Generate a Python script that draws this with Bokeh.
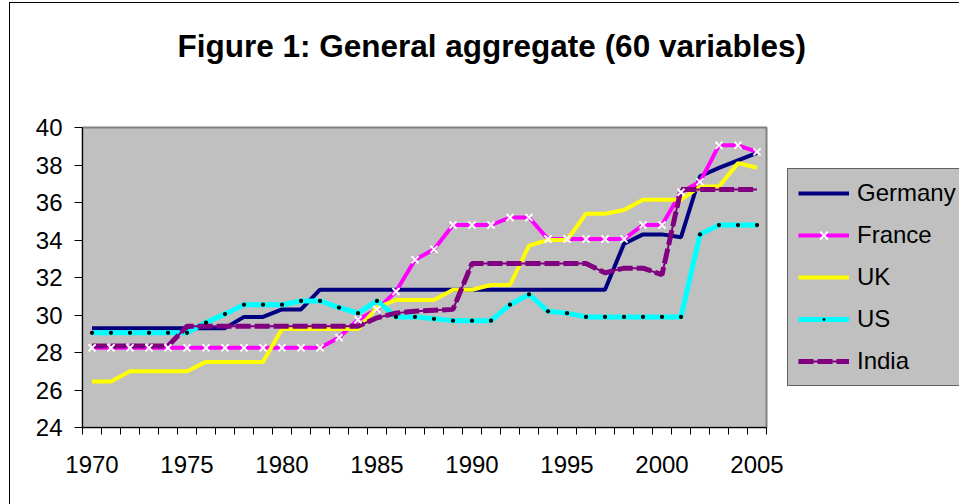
from bokeh.plotting import figure
from bokeh.models import FixedTicker, Legend, LegendItem, Range1d, Title
from bokeh.embed import file_html
from bokeh.resources import INLINE

years = list(range(1970, 2006))

germany = [29.3, 29.3, 29.3, 29.3, 29.3, 29.3, 29.3, 29.3, 29.9, 29.9,
           30.3, 30.3, 31.35, 31.35, 31.35, 31.35, 31.35, 31.35, 31.35, 31.35,
           31.35, 31.35, 31.35, 31.35, 31.35, 31.35, 31.35, 31.35, 33.8, 34.3,
           34.3, 34.15, 37.4, 37.85, 38.25, 38.65]
france = [28.25, 28.25, 28.25, 28.25, 28.25, 28.25, 28.25, 28.25, 28.25, 28.25,
          28.25, 28.25, 28.25, 28.8, 29.75, 30.3, 31.25, 32.95, 33.5, 34.8,
          34.8, 34.8, 35.2, 35.2, 34.05, 34.05, 34.05, 34.05, 34.05, 34.8,
          34.8, 36.55, 37.1, 39.05, 39.05, 38.7]
uk = [26.45, 26.45, 27.0, 27.0, 27.0, 27.0, 27.5, 27.5, 27.5, 27.5,
      29.25, 29.25, 29.25, 29.25, 29.25, 30.4, 30.8, 30.8, 30.8, 31.35,
      31.35, 31.6, 31.6, 33.7, 34.0, 34.0, 35.4, 35.4, 35.6, 36.15,
      36.15, 36.15, 36.85, 36.85, 38.1, 37.85]
us = [29.05, 29.05, 29.05, 29.05, 29.05, 29.05, 29.6, 30.05, 30.55, 30.55,
      30.55, 30.75, 30.75, 30.4, 30.1, 30.75, 29.9, 29.9, 29.8, 29.7,
      29.7, 29.7, 30.55, 31.1, 30.2, 30.1, 29.9, 29.9, 29.9, 29.9,
      29.9, 29.9, 34.3, 34.8, 34.8, 34.8]
india = [28.35, 28.35, 28.35, 28.35, 28.35, 29.4, 29.4, 29.4, 29.4, 29.4,
         29.4, 29.4, 29.4, 29.4, 29.4, 29.85, 30.1, 30.2, 30.25, 30.3,
         32.75, 32.75, 32.75, 32.75, 32.75, 32.75, 32.75, 32.25, 32.5, 32.5,
         32.15, 36.7, 36.7, 36.7, 36.7, 36.7]

series_names = ["Germany", "France", "UK", "US", "India"]
x_tick_years = [1970, 1975, 1980, 1985, 1990, 1995, 2000, 2005]
y_ticks = [24, 26, 28, 30, 32, 34, 36, 38, 40]
title_text = "Figure 1: General aggregate (60 variables)"

FONT = "Liberation Sans"

p = figure(frame_width=684, frame_height=300, output_backend="svg",
           toolbar_location=None, title=None,
           x_range=Range1d(1969.5, 2005.5), y_range=Range1d(24, 40),
           min_border_left=82, min_border_right=0, min_border_top=127,
           min_border_bottom=77)
p.background_fill_color = "#C0C0C0"
p.border_fill_alpha = 0
p.outline_line_color = "#808080"
p.outline_line_width = 2
p.grid.visible = False
# outer chart-area frame (left and top edges visible in the window)
p.styles = {
    "background": ("linear-gradient(#000,#000) 9px 2px / 1px 100% no-repeat, "
                   "linear-gradient(#000,#000) 9px 2px / 100% 1px no-repeat, #fff"),
}

# spacer between the plot area and the title, then the title itself
spacer = Title(text=" ", text_font=FONT, text_font_size="10px", standoff=46)
p.add_layout(spacer, "above")
main_title = Title(text=title_text, text_font=FONT, text_font_size="31.5px",
                   text_font_style="bold", text_color="black",
                   align="left", offset=95, standoff=10)
p.add_layout(main_title, "above")

# lines
r_de = p.line(years, germany, line_color="#000080", line_width=4)
r_fr = p.line(years, france, line_color="#FF00FF", line_width=4)
r_uk = p.line(years, uk, line_color="#FFFF00", line_width=4)
r_us = p.line(years, us, line_color="#00FFFF", line_width=5)
r_in_thin = p.line(years, india, line_color="#800080", line_width=2)
r_in = p.line(years, india, line_color="#800080", line_width=5, line_dash="15 4")
# markers
r_fr_m = p.scatter(years, france, marker="x", size=10, line_color="white", line_width=2)
r_us_m = p.scatter(years, us, marker="dot", size=17, line_color="black", fill_color="black")

# axes
p.yaxis.ticker = FixedTicker(ticks=y_ticks)
p.yaxis.major_tick_out = 8
p.yaxis.major_tick_in = 0
p.yaxis.minor_tick_out = 0
p.yaxis.minor_tick_in = 0
p.yaxis.axis_line_color = "black"
p.yaxis.major_tick_line_color = "black"
p.yaxis.major_label_text_font = FONT
p.yaxis.major_label_text_font_size = "24px"
p.yaxis.major_label_text_color = "black"
p.yaxis.major_label_standoff = 12

minor = [y - 0.5 for y in years] + [years[-1] + 0.5]
p.xaxis.ticker = FixedTicker(ticks=x_tick_years, minor_ticks=minor)
p.xaxis.major_tick_out = 7
p.xaxis.major_tick_in = 0
p.xaxis.major_tick_line_color = None
p.xaxis.minor_tick_out = 7
p.xaxis.minor_tick_in = 0
p.xaxis.minor_tick_line_color = "black"
p.xaxis.axis_line_color = "black"
p.xaxis.major_label_text_font = FONT
p.xaxis.major_label_text_font_size = "24px"
p.xaxis.major_label_text_color = "black"
p.xaxis.major_label_standoff = 21

legend = Legend(items=[
    LegendItem(label=series_names[0], renderers=[r_de]),
    LegendItem(label=series_names[1], renderers=[r_fr, r_fr_m]),
    LegendItem(label=series_names[2], renderers=[r_uk]),
    LegendItem(label=series_names[3], renderers=[r_us, r_us_m]),
    LegendItem(label=series_names[4], renderers=[r_in_thin, r_in]),
], location="center_left")
legend.border_line_color = "black"
legend.border_line_width = 1
legend.background_fill_color = "#C0C0C0"
legend.background_fill_alpha = 1
legend.label_text_font = FONT
legend.label_text_font_size = "24px"
legend.label_text_color = "black"
legend.glyph_width = 51
legend.glyph_height = 28
legend.label_height = 28
legend.spacing = 14
legend.padding = 10
legend.margin = 21
legend.label_standoff = 8
p.add_layout(legend, "right")

open("out.html", "w").write(file_html(p, INLINE))
